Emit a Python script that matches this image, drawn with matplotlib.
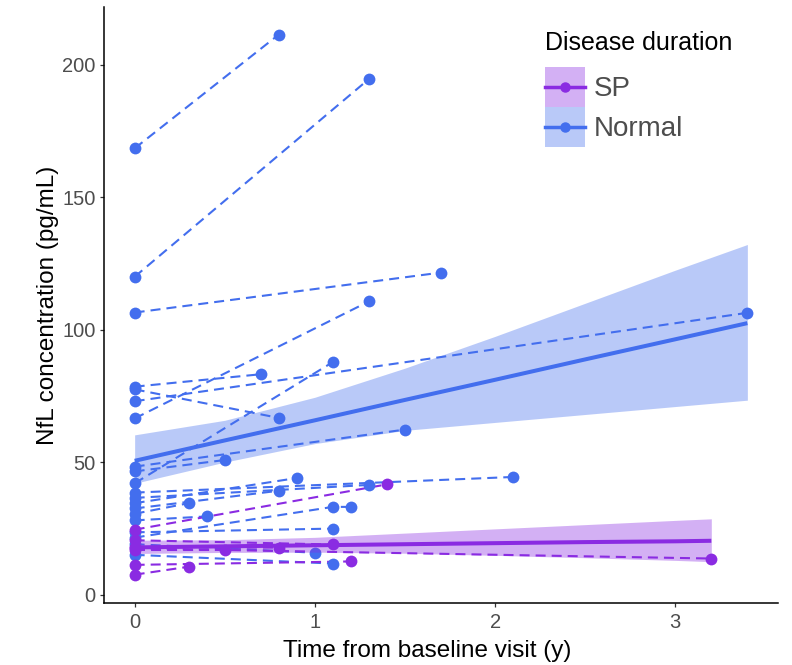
import matplotlib
matplotlib.use('Agg')
import matplotlib.pyplot as plt
from matplotlib.patches import Patch
from matplotlib.lines import Line2D
from matplotlib.legend_handler import HandlerTuple, HandlerLine2D

plt.rcParams['font.family'] = ['Liberation Sans', 'DejaVu Sans']

#Colours
blue = '#436EEE'
purple = '#8A2BE2'
tick_grey = '#4D4D4D'

# Visits per patient: time from baseline (y) and NfL (pg/mL)
normal_times = [[0, 0.8], [0, 1.3], [0, 1.7], [0, 0.7], [0, 0.8],
                [0, 3.4], [0, 1.3], [0, 1.1], [0, 1.5], [0, 0.5],
                [0, 2.1], [0, 1.3], [0, 0.9], [0, 0.8], [0, 0.3],
                [0, 0.4], [0, 1.1, 1.2], [0, 1.1], [0, 1.0], [0, 1.1]]
normal_nfl = [[168.5, 211.5], [120.0, 194.7], [106.5, 121.6], [78.5, 83.2], [77.5, 66.7],
              [73.0, 106.4], [66.5, 110.7], [42.0, 87.8], [48.3, 62.3], [46.5, 50.8],
              [38.5, 44.4], [36.5, 41.4], [34.5, 44.0], [32.5, 39.2], [30.5, 34.5],
              [28.0, 29.5], [21.5, 33.1, 33.1], [23.5, 24.9], [19.0, 15.8], [15.0, 11.7]]

sp_times = [[0, 1.4], [0, 1.1], [0, 0.5], [0, 0.8], [0, 3.2], [0, 1.2], [0, 0.3]]
sp_nfl = [[24.5, 41.6], [20.5, 18.9], [17.0, 17.0], [18.0, 17.7],
          [17.4, 13.6], [11.2, 12.5], [7.5, 10.5]]

# Linear trend per group with its 95% band
fit_t_normal = [0, 0.5, 1.0, 1.5, 2.0, 2.5, 3.0, 3.4]
fit_normal = [50.5, 58.2, 65.8, 73.5, 81.1, 88.8, 96.4, 102.5]
fit_normal_lo = [42.0, 50.0, 57.0, 62.0, 65.0, 68.0, 71.0, 73.4]
fit_normal_hi = [60.3, 65.8, 74.5, 85.5, 97.5, 110.0, 122.5, 132.2]

fit_t_sp = [0, 0.5, 1.0, 1.5, 2.0, 2.5, 3.0, 3.2]
fit_sp = [17.8, 18.2, 18.6, 19.0, 19.4, 19.8, 20.1, 20.3]
fit_sp_lo = [15.5, 15.9, 16.0, 15.6, 14.8, 13.9, 12.9, 12.4]
fit_sp_hi = [20.5, 20.7, 21.6, 23.2, 24.8, 26.4, 28.0, 28.6]

x_ticks = [0, 1, 2, 3]
y_ticks = [0, 50, 100, 150, 200]

dash = (0, (4.8, 2.9))
band_alpha = 0.37


class CentredLine(HandlerLine2D):
    # puts the key line in the middle of the key square instead of slightly above
    def create_artists(self, legend, orig_handle, xdescent, ydescent,
                       width, height, fontsize, trans):
        artists = super().create_artists(legend, orig_handle, xdescent, ydescent,
                                         width, height, fontsize, trans)
        for a in artists:
            a.set_ydata([height / 2 - ydescent] * len(a.get_ydata()))
            xd = a.get_xdata()
            if len(xd) == 2:
                a.set_xdata([xd[0] + 0.1 * width, xd[1] - 0.1 * width])
        return artists


def drawPatients(ax, times, values, colour):
    for t, v in zip(times, values):
        ax.plot(t, v, color=colour, lw=1.5, linestyle=dash, zorder=2)
        ax.plot(t, v, color=colour, lw=0, marker='o', ms=8.5,
                markeredgewidth=0, zorder=3)


def drawTrend(ax, t, fit, lo, hi, colour):
    ax.fill_between(t, lo, hi, color=colour, alpha=band_alpha, lw=0, zorder=4)
    ax.plot(t, fit, color=colour, lw=2.9, solid_capstyle='butt', zorder=5)


fig = plt.figure(figsize=(7.92, 6.65), dpi=100)
ax = fig.add_axes([104 / 792, 1 - 603 / 665, 674 / 792, 596 / 665])

drawPatients(ax, normal_times, normal_nfl, blue)
drawPatients(ax, sp_times, sp_nfl, purple)
drawTrend(ax, fit_t_normal, fit_normal, fit_normal_lo, fit_normal_hi, blue)
drawTrend(ax, fit_t_sp, fit_sp, fit_sp_lo, fit_sp_hi, purple)

ax.set_xlim(-0.17, 3.57)
ax.set_ylim(-3.2, 221.9)
ax.set_xticks(x_ticks)
ax.set_yticks(y_ticks)

# classic look: only left and bottom axis lines
for side in ('top', 'right'):
    ax.spines[side].set_visible(False)
for side in ('left', 'bottom'):
    ax.spines[side].set_linewidth(1.1)
    ax.spines[side].set_color('black')
ax.tick_params(length=3, width=0.9, color='#333333', labelcolor=tick_grey,
               labelsize=14.5, pad=3)
ax.tick_params(axis='x', pad=4.5)

ax.set_xlabel('Time from baseline visit (y)', fontsize=17.5, va='center')
ax.set_ylabel('NfL concentration (pg/mL)', fontsize=17.5, va='center')
ax.xaxis.set_label_coords(0.48, -0.08)
ax.yaxis.set_label_coords(-0.083, 0.5)

# legend keys: band square with the line and a point on top
keys = []
for colour in (purple, blue):
    box = Patch(facecolor=colour, alpha=band_alpha, edgecolor='none')
    mark = Line2D([], [], color=colour, lw=2.5, marker='o', ms=6.5)
    keys.append((box, mark))
leg = ax.legend(keys, ['SP', 'Normal'],
                handler_map={tuple: HandlerTuple(ndivide=1, pad=0),
                             Line2D: CentredLine()},
                loc='upper left', bbox_to_anchor=(545 / 792, 1 - 67 / 665),
                bbox_transform=fig.transFigure, frameon=False,
                fontsize=20, numpoints=1,
                handlelength=1.44, handleheight=1.84, labelspacing=0,
                handletextpad=0.3, borderpad=0, borderaxespad=0)
for text in leg.get_texts():
    text.set_color(tick_grey)
fig.text(545 / 792, 1 - 43 / 665, 'Disease duration', fontsize=18,
         ha='left', va='center')

fig.savefig('out.png', dpi=100)
